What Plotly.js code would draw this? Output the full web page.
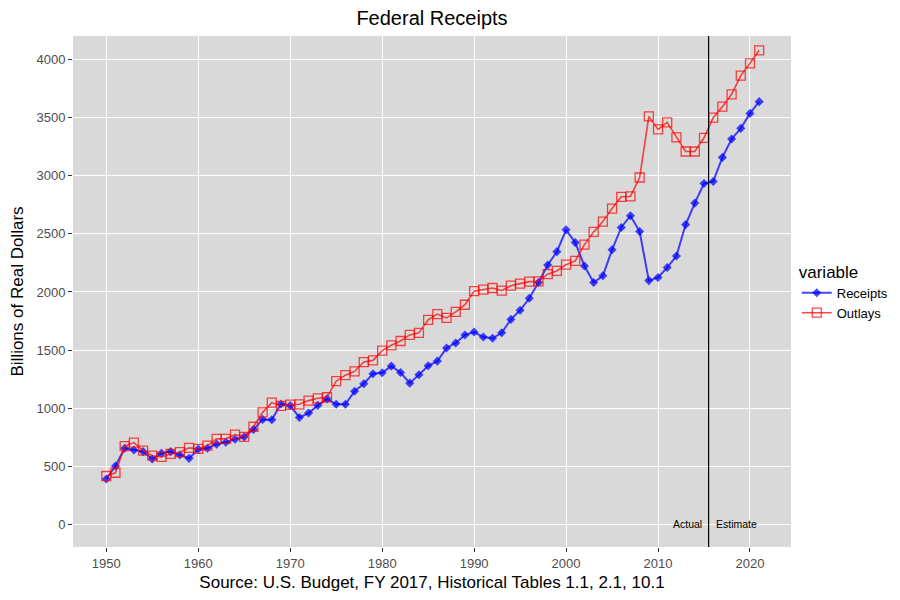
<!DOCTYPE html>
<html>
<head>
<meta charset="utf-8">
<script src="https://cdn.plot.ly/plotly-3.0.1.min.js"></script>
<style>
  html, body { margin: 0; padding: 0; background: #fff; }
  #chart { width: 900px; height: 600px; }
</style>
</head>
<body>
<div id="chart"></div>
<script>
// Fiscal years
const years = [];
for (let y = 1950; y <= 2021; y++) years.push(y);

// Billions of real dollars
const receipts = [
  390, 502, 655, 640, 626, 562, 612, 626, 597, 568,
  647, 655, 690, 707, 733, 753, 816, 903, 900, 1036,
  1022, 920, 958, 1024, 1080, 1033, 1033, 1145, 1210, 1296,
  1305, 1362, 1307, 1215, 1287, 1365, 1405, 1518, 1561, 1630,
  1655, 1612, 1601, 1649, 1764, 1842, 1946, 2081, 2232, 2347,
  2535, 2425, 2223, 2081, 2139, 2363, 2555, 2656, 2520, 2098,
  2125, 2210, 2310, 2580, 2765, 2934, 2951, 3158, 3316, 3408,
  3537, 3638
];

const outlays = [
  416, 444, 673, 704, 635, 591, 580, 606, 621, 658,
  649, 678, 736, 736, 773, 753, 840, 964, 1048, 1019,
  1030, 1033, 1065, 1085, 1094, 1232, 1284, 1316, 1397, 1411,
  1495, 1541, 1578, 1630, 1648, 1760, 1810, 1777, 1829, 1890,
  2007, 2020, 2034, 2011, 2054, 2072, 2089, 2092, 2153, 2181,
  2235, 2267, 2408, 2517, 2606, 2718, 2819, 2822, 2985, 3511,
  3399, 3459, 3330, 3209, 3209, 3327, 3500, 3595, 3701, 3862,
  3968, 4080
];

const splitYear = 2015.5;   // actual vs estimate
const xTicks = [1950, 1960, 1970, 1980, 1990, 2000, 2010, 2020];
const yTicks = [0, 500, 1000, 1500, 2000, 2500, 3000, 3500, 4000];

const font = 'Arial, "Liberation Sans", sans-serif';

const traceReceipts = {
  x: years,
  y: receipts,
  name: 'Receipts',
  type: 'scatter',
  mode: 'lines+markers',
  line: { color: 'rgba(0,0,255,0.72)', width: 2 },
  marker: { symbol: 'diamond', size: 7, color: 'rgba(0,0,255,0.72)' }
};

const traceOutlays = {
  x: years,
  y: outlays,
  name: 'Outlays',
  type: 'scatter',
  mode: 'lines+markers',
  line: { color: 'rgba(255,0,0,0.72)', width: 1.6 },
  marker: {
    symbol: 'square-open', size: 9,
    color: 'rgba(255,0,0,0.72)',
    line: { width: 1.3, color: 'rgba(255,0,0,0.72)' }
  }
};

const axisCommon = {
  showgrid: true,
  gridcolor: '#ffffff',
  gridwidth: 1.1,
  zeroline: false,
  showline: false,
  ticks: 'outside',
  ticklen: 4,
  tickwidth: 1,
  tickcolor: '#333333',
  tickfont: { family: font, size: 13, color: '#4d4d4d' }
};

const layout = {
  width: 900,
  height: 600,
  paper_bgcolor: '#ffffff',
  plot_bgcolor: '#d9d9d9',
  margin: { l: 73, r: 109, t: 36, b: 53, pad: 0, autoexpand: false },
  title: {
    text: 'Federal Receipts',
    font: { family: font, size: 20, color: '#000000' },
    xref: 'paper', x: 0.5, xanchor: 'center',
    y: 0.97, yanchor: 'middle'
  },
  xaxis: Object.assign({}, axisCommon, {
    range: [1946.38, 2024.46],
    tickvals: xTicks,
    ticktext: xTicks.map(String),
    title: {
      text: 'Source: U.S. Budget, FY 2017, Historical Tables 1.1, 2.1, 10.1',
      font: { family: font, size: 17, color: '#000000' },
      standoff: 6
    }
  }),
  yaxis: Object.assign({}, axisCommon, {
    range: [-195, 4203],
    tickvals: yTicks,
    ticktext: yTicks.map(String),
    title: {
      text: 'Billions of Real Dollars',
      font: { family: font, size: 17, color: '#000000' },
      standoff: 8
    }
  }),
  shapes: [{
    type: 'line',
    xref: 'x', yref: 'paper',
    x0: splitYear, x1: splitYear, y0: 0, y1: 1,
    line: { color: '#000000', width: 1.2 }
  }],
  annotations: [
    {
      x: splitYear, y: 0, xref: 'x', yref: 'y',
      text: 'Actual', showarrow: false,
      xanchor: 'right', xshift: -5,
      font: { family: font, size: 10.5, color: '#000000' }
    },
    {
      x: splitYear, y: 0, xref: 'x', yref: 'y',
      text: 'Estimate', showarrow: false,
      xanchor: 'left', xshift: 5,
      font: { family: font, size: 10.5, color: '#000000' }
    }
  ],
  showlegend: true,
  legend: {
    x: 1.008, xanchor: 'left',
    y: 0.57, yanchor: 'top',
    bgcolor: 'rgba(255,255,255,0)',
    title: { text: 'variable', font: { family: font, size: 17, color: '#000000' } },
    font: { family: font, size: 13, color: '#000000' },
    tracegroupgap: 0,
    itemwidth: 30
  }
};

Plotly.newPlot('chart', [traceReceipts, traceOutlays], layout, { displayModeBar: false, responsive: false });
</script>
</body>
</html>
